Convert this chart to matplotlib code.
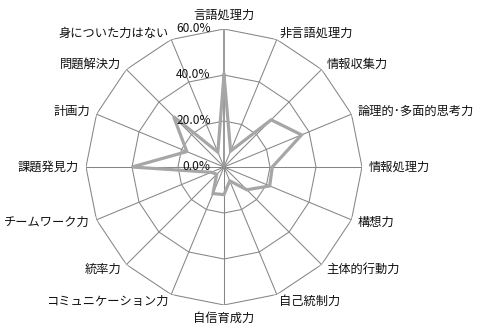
import numpy as np
import matplotlib
matplotlib.use("Agg")
import matplotlib.pyplot as plt

plt.rcParams['font.family'] = ['Noto Sans CJK JP', 'DejaVu Sans']

categories = ["言語処理力", "非言語処理力", "情報収集力", "論理的･多面的思考力",
              "情報処理力", "構想力", "主体的行動力", "自己統制力",
              "自信育成力", "コミュニケーション力", "統率力", "チームワーク力",
              "課題発見力", "計画力", "問題解決力", "身についた力はない"]
values = [40, 7.5, 29, 36.5, 21, 21.5, 14, 6.5, 12, 12.5, 4.5, 6, 40, 17.5, 31, 7]
ticks = [0, 20, 40, 60]
tick_labels = ["0.0%", "20.0%", "40.0%", "60.0%"]

n = len(categories)
angles = np.linspace(0, 2 * np.pi, n, endpoint=False)
ang_closed = np.concatenate([angles, angles[:1]])

fig = plt.figure(figsize=(4.79, 3.33), dpi=100)
R = 138
cx, cy = 224, 333 - 167
ax = fig.add_axes([(cx - R) / 479, (cy - R) / 333, 2 * R / 479, 2 * R / 333],
                  projection='polar')
ax.set_theta_zero_location('N')
ax.set_theta_direction(-1)
ax.set_ylim(0, 60)
ax.grid(False)
ax.spines['polar'].set_visible(False)
ax.set_xticks([])
ax.set_yticks([])
ax.patch.set_alpha(0)

grid_col = '#868686'
for t in ticks[1:]:
    ax.plot(ang_closed, [t] * (n + 1), color=grid_col, lw=0.75, zorder=1)
for i, a in enumerate(angles):
    if i == 0:
        continue
    ax.plot([a, a], [0, ticks[-1]], color=grid_col, lw=0.75, zorder=1)
# value axis
ax.plot([0, 0], [0, ticks[-1]], color='#9a9a9a', lw=1.4, zorder=2)

vals_closed = values + values[:1]
ax.plot(ang_closed, vals_closed, color='#a6a6a6', lw=2.3, zorder=3,
        solid_joinstyle='miter')

for t, lab in zip(ticks, tick_labels):
    ax.annotate(lab, xy=(0, t), xytext=(-9.5, 0), textcoords='offset points',
                ha='right', va='center', fontsize=8.6, color='#111111')

d = 5.0
for a, lab in zip(angles, categories):
    s, c = np.sin(a), np.cos(a)
    if s > 0.05:
        ha = 'left'
    elif s < -0.05:
        ha = 'right'
    else:
        ha = 'center'
    if abs(s) < 0.05:
        va = 'bottom' if c > 0 else 'top'
    else:
        va = 'center'
    ax.annotate(lab, xy=(a, ticks[-1]), xytext=(d * s, d * c),
                textcoords='offset points', ha=ha, va=va,
                fontsize=8.8, color='#111111', annotation_clip=False)

fig.savefig('out.png', dpi=100)
